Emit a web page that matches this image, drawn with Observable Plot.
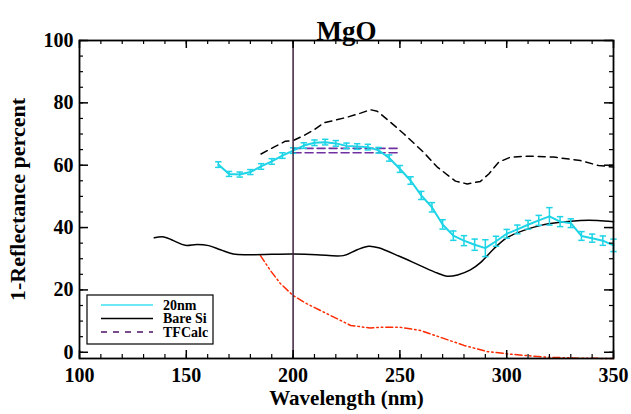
<!DOCTYPE html>
<html>
<head>
<meta charset="utf-8">
<script src="https://cdn.jsdelivr.net/npm/d3@7"></script>
<script src="https://cdn.jsdelivr.net/npm/@observablehq/plot@0.6"></script>
<style>
  html, body { margin: 0; padding: 0; background: #fff; }
  #chart { width: 631px; height: 414px; }
</style>
</head>
<body>
<div id="chart"></div>
<script>
// ---- Data ----
const titleText = "MgO";
const xLabel = "Wavelength (nm)";
const yLabel = "1-Reflectance percent";
const xTicks = [100, 150, 200, 250, 300, 350];
const yTicks = [0, 20, 40, 60, 80, 100];
const xMinor = d3.range(100, 351, 10);
const yMinor = d3.range(0, 101, 5);
const markerWavelength = 200;

// 20nm measured (cyan) with error bars
const w20 = [165,170,175,180,185,190,195,200,205,210,215,220,225,230,235,240,245,250,255,260,265,270,275,280,285,290,295,300,305,310,315,320,325,330,335,340,345,350];
const v20 = [60.2,57.2,57.0,57.8,59.6,61.2,63.1,64.7,66.3,67.2,67.4,67.0,66.2,66.0,65.8,64.8,62.3,58.8,55.1,50.3,46.5,41.0,37.4,35.8,34.5,33.4,35.6,38.0,39.4,40.9,42.3,43.6,41.9,41.4,37.3,36.6,35.8,34.3];
const e20 = [0.9,0.8,0.8,0.8,0.9,0.9,0.9,0.9,0.9,0.9,0.9,0.9,0.9,0.9,0.9,0.9,1.0,1.1,1.2,1.3,1.5,1.5,1.5,1.6,1.8,2.7,1.6,1.4,1.4,1.4,1.6,2.8,1.6,1.4,1.4,1.3,1.5,2.0];

// Bare Si (black solid)
const wSi = [135,139.5,144,149.5,155,160.5,166,172,180,190,200,211,223.5,230,235.5,240,250,259.5,267.5,272,277,283,288,294,300,308,316,325,334.5,342.5,350];
const vSi = [36.7,37.0,35.8,34.3,34.6,34.2,32.9,31.5,31.3,31.4,31.5,31.3,31.0,32.9,34.0,33.5,30.7,27.8,25.4,24.4,24.8,26.4,28.9,33.2,36.7,39.1,40.7,41.7,42.3,42.3,41.9];

// TFCalc (purple dashed, with uncertainty band)
const wTF = [200,205,210,215,220,225,230,235,240,245,250];
const vTF = [64.7,64.7,64.7,64.7,64.7,64.7,64.7,64.7,64.7,64.7,64.7];
const eTF = [0.7,0.7,0.7,0.7,0.7,0.7,0.7,0.7,0.7,0.7,0.7];

// Unlabelled model curve (black dashed)
const wDash = [185,191,196.4,200,205,209.7,214.4,220,225.3,231.6,236.2,239.4,245.6,251.8,261,267.5,276,281.5,287.7,291.6,296.3,301.8,311,322,334.5,343,350];
const vDash = [63.6,65.8,67.7,67.9,69.5,71.3,73.6,74.5,75.4,76.7,77.8,77.3,73.8,70.1,64.2,59.4,54.9,54.0,54.8,57.2,61.0,62.6,62.9,62.6,61.5,59.9,59.4];

// Red dash-dot-dot curve
const wRed = [184.7,189.4,194.1,200,206.6,217.5,227,236,241,250,259.6,269,280,291,303,319,334.6,350];
const vRed = [31.0,26.2,22.0,18.2,15.5,11.8,8.6,7.8,8.0,8.0,7.0,4.8,2.2,0.2,-0.7,-1.6,-1.9,-2.0];

const legendItems = [
  {label: "20nm", color: "#3ee0f0", dash: null},
  {label: "Bare Si", color: "#000000", dash: null},
  {label: "TFCalc", color: "#4a1060", dash: "6,6"}
];

// ---- Build tables ----
const d20 = w20.map((w, i) => ({w, v: v20[i], e: e20[i]}));
const dSi = wSi.map((w, i) => ({w, v: vSi[i]}));
const dTF = wTF.map((w, i) => ({w, v: vTF[i], e: eTF[i]}));
const dDash = wDash.map((w, i) => ({w, v: vDash[i]}));
const dRed = wRed.map((w, i) => ({w, v: vRed[i]}));

const W = 631, H = 414;
const mL = 79, mR = 18, mT = 40, mB = 56;
const fw = W - mL - mR, fh = H - mT - mB;
const cyan = "#1ed4e6";
const purple = "#7030a0";
const capHalf = 1.5; // nm
const serif = "'Liberation Serif', 'DejaVu Serif', serif";

const chart = Plot.plot({
  width: W,
  height: H,
  marginLeft: mL, marginRight: mR, marginTop: mT, marginBottom: mB,
  style: {fontFamily: serif, fontWeight: "bold", fontSize: "20px", background: "white", color: "black"},
  x: {domain: [100, 350], axis: null},
  y: {domain: [-2, 100], axis: null},
  marks: [
    // curves
    Plot.line(dRed, {x: "w", y: "v", stroke: "#ff2a00", strokeWidth: 1.5, strokeDasharray: "7,3,1.5,3,1.5,3"}),
    Plot.line(dDash, {x: "w", y: "v", stroke: "black", strokeWidth: 1.5, strokeDasharray: "7,5"}),
    Plot.line(dSi, {x: "w", y: "v", stroke: "black", strokeWidth: 1.5, curve: "catmull-rom"}),
    // TFCalc band
    Plot.line(dTF, {x: "w", y: d => d.v + d.e, stroke: purple, strokeWidth: 1.6, strokeDasharray: "8,4"}),
    Plot.line(dTF, {x: "w", y: d => d.v - d.e, stroke: purple, strokeWidth: 1.6, strokeDasharray: "8,4"}),
    // 20nm with error bars
    Plot.line(d20, {x: "w", y: "v", stroke: cyan, strokeWidth: 2}),
    Plot.ruleX(d20, {x: "w", y1: d => d.v - d.e, y2: d => d.v + d.e, stroke: cyan, strokeWidth: 1.5}),
    Plot.link(d20, {x1: d => d.w - capHalf, x2: d => d.w + capHalf, y1: d => d.v + d.e, y2: d => d.v + d.e, stroke: cyan, strokeWidth: 1.5}),
    Plot.link(d20, {x1: d => d.w - capHalf, x2: d => d.w + capHalf, y1: d => d.v - d.e, y2: d => d.v - d.e, stroke: cyan, strokeWidth: 1.5}),
    // vertical marker
    Plot.ruleX([markerWavelength], {stroke: "#3c1f3c", strokeWidth: 1.5}),
    // inward ticks
    Plot.ruleX(xTicks, {x: d => d, insetTop: fh - 8, stroke: "black", strokeWidth: 1.5}),
    Plot.ruleX(xTicks, {x: d => d, insetBottom: fh - 8, stroke: "black", strokeWidth: 1.5}),
    Plot.ruleX(xMinor, {x: d => d, insetTop: fh - 4, stroke: "black", strokeWidth: 1.2}),
    Plot.ruleX(xMinor, {x: d => d, insetBottom: fh - 4, stroke: "black", strokeWidth: 1.2}),
    Plot.ruleY(yTicks, {y: d => d, insetRight: fw - 9, stroke: "black", strokeWidth: 1.5}),
    Plot.ruleY(yTicks, {y: d => d, insetLeft: fw - 9, stroke: "black", strokeWidth: 1.5}),
    Plot.ruleY(yMinor, {y: d => d, insetRight: fw - 4, stroke: "black", strokeWidth: 1.2}),
    Plot.ruleY(yMinor, {y: d => d, insetLeft: fw - 4, stroke: "black", strokeWidth: 1.2}),
    Plot.frame({stroke: "black", strokeWidth: 1.8}),
    // tick labels
    Plot.text(xTicks, {x: d => d, text: d => String(d), frameAnchor: "bottom", lineAnchor: "middle", dy: 17, fontSize: 20, fontWeight: "bold"}),
    Plot.text(yTicks, {y: d => d, text: d => String(d), frameAnchor: "left", textAnchor: "end", dx: -6, fontSize: 20, fontWeight: "bold"}),
    // titles
    Plot.text([titleText], {text: d => d, frameAnchor: "top", textAnchor: "middle", dy: -20, fontSize: 27, fontWeight: "bold"}),
    Plot.text([xLabel], {text: d => d, frameAnchor: "bottom", textAnchor: "middle", dy: 46, fontSize: 21, fontWeight: "bold"}),
    Plot.text([yLabel], {text: d => d, frameAnchor: "left", textAnchor: "middle", dx: -62, rotate: -90, fontSize: 22, fontWeight: "bold"})
  ]
});

document.getElementById("chart").appendChild(chart);

// ---- Legend (drawn inside the SVG) ----
const svg = d3.select(chart);
const lg = svg.append("g").attr("transform", "translate(87,295)");
lg.append("rect").attr("width", 126).attr("height", 49).attr("fill", "white").attr("stroke", "black").attr("stroke-width", 1.2);
legendItems.forEach((it, i) => {
  const y = 10 + i * 13.5;
  lg.append("line").attr("x1", 14).attr("x2", 66).attr("y1", y).attr("y2", y)
    .attr("stroke", it.color).attr("stroke-width", 1.5)
    .attr("stroke-dasharray", it.dash);
  lg.append("text").attr("x", 76).attr("y", y).attr("dy", "0.35em")
    .attr("text-anchor", "start")
    .attr("font-size", 14).attr("font-weight", "bold")
    .attr("font-family", serif).attr("fill", "black")
    .text(it.label);
});
</script>
</body>
</html>
